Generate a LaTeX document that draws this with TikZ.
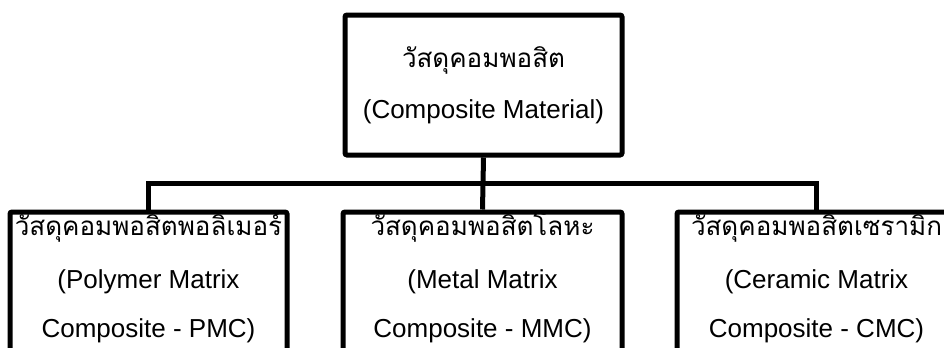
\documentclass[tikz,border=0pt]{standalone}
\usepackage{fontspec}
\setmainfont{Liberation Sans}
\newfontfamily\thaifont[Script=Thai]{Loma}
\begin{document}
\begin{tikzpicture}[x=0.75pt,y=-0.75pt,
  box/.style={draw=black,line width=3.75pt,rounded corners=1.5pt,fill=white,inner sep=0pt},
  wire/.style={draw=black,line width=3.75pt,line join=miter},
  lat/.style={anchor=base,inner sep=0pt,font=\fontsize{19.5}{24}\selectfont},
  thai/.style={anchor=base,inner sep=0pt,font=\thaifont\fontsize{19.5}{24}\selectfont}]
\useasboundingbox (0,0) rectangle (944,347);
\clip (0,0) rectangle (944,347);
\fill[white] (0,0) rectangle (944,347);
\coordinate (bus) at (0,183);
\node[box,minimum width=207.75pt,minimum height=105pt] (top) at (483.5,85) {};
\node[box,minimum width=207.75pt,minimum height=126pt] (pmc) at (148.5,296) {};
\node[box,minimum width=209.25pt,minimum height=126pt] (mmc) at (482.5,296) {};
\node[box,minimum width=209.25pt,minimum height=126pt] (cmc) at (816.5,296) {};
\draw[wire] (top.south) -- (mmc.north);
\draw[wire] (pmc.north) -- (pmc.north |- bus) -- (cmc.north |- bus) -- (cmc.north);
\node[thai] (t1) at (483.5,67) {วัสดุคอมพอสิต};
\node[lat] (t2) at (483.5,118) {(Composite Material)};
\node[thai] (p1) at (148.5,235) {วัสดุคอมพอสิตพอลิเมอร์};
\node[lat] (p2) at (148.5,288) {(Polymer Matrix};
\node[lat] (p3) at (148.5,337) {Composite - PMC)};
\node[thai] (m1) at (482.5,235) {วัสดุคอมพอสิตโลหะ};
\node[lat] (m2) at (482.5,288) {(Metal Matrix};
\node[lat] (m3) at (482.5,337) {Composite - MMC)};
\node[thai] (c1) at (816.5,235) {วัสดุคอมพอสิตเซรามิก};
\node[lat] (c2) at (816.5,288) {(Ceramic Matrix};
\node[lat] (c3) at (816.5,337) {Composite - CMC)};
\end{tikzpicture}
\end{document}
